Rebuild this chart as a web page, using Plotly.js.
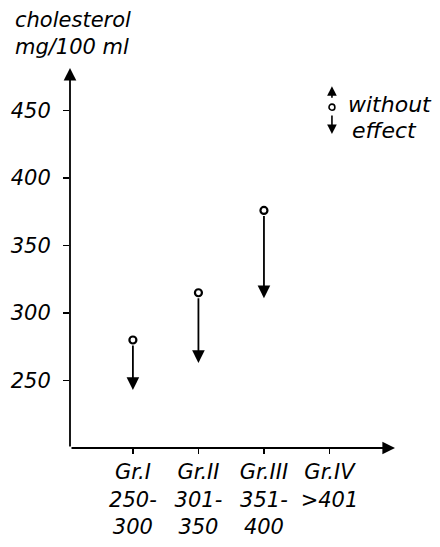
<!DOCTYPE html>
<html>
<head>
<meta charset="utf-8">
<script src="https://cdn.plot.ly/plotly-3.0.1.min.js"></script>
<style>html,body{margin:0;padding:0;background:#fff;}#chart{width:440px;height:547px;}</style>
</head>
<body>
<div id="chart"></div>
<script>
// Data
const groupPos = [1, 2, 3];
const before = [280, 315, 376];
const after = [243, 263, 311];
const xTickVals = [1, 2, 3, 4];
const xTickText = ["Gr.I<br>250-<br>300", "Gr.II<br>301-<br>350", "Gr.III<br>351-<br>400", "Gr.IV<br>>401<br> "];
const yTickVals = [250, 300, 350, 400, 450];
const yTitle = ["cholesterol", "mg/100 ml"];
const legendText = ["without", "effect"];

const FONT = "DejaVu Sans, Liberation Sans, sans-serif";
const xr = [0.04, 5];
const yr = [200, 481.5];

const traces = [{
  type: "scatter", mode: "markers",
  x: groupPos, y: before,
  marker: {symbol: "circle", size: 7, color: "#fff", line: {color: "#000", width: 2.2}},
  showlegend: false, hoverinfo: "skip", cliponaxis: false
}];

const ann = [];
// data arrows
groupPos.forEach((g, i) => {
  ann.push({x: g, y: after[i], ax: g, ay: before[i], xref: "x", yref: "y", axref: "x", ayref: "y",
    showarrow: true, arrowhead: 2, arrowsize: 1.4, arrowwidth: 1.8, arrowcolor: "#000", startstandoff: 4, text: ""});
});
// axis arrows
ann.push({x: xr[1], y: yr[0], ax: xr[0], ay: yr[0], xref: "x", yref: "y", axref: "x", ayref: "y",
  showarrow: true, arrowhead: 2, arrowsize: 1.4, arrowwidth: 1.8, arrowcolor: "#000", text: ""});
ann.push({x: xr[0], y: yr[1], ax: xr[0], ay: yr[0], xref: "x", yref: "y", axref: "x", ayref: "y",
  showarrow: true, arrowhead: 2, arrowsize: 1.4, arrowwidth: 1.8, arrowcolor: "#000", text: ""});
// y title
ann.push({xref: "paper", yref: "paper", x: -0.175, y: 1.162, xanchor: "left", yanchor: "top", align: "left",
  text: "<i>" + yTitle.join("<br>") + "</i>", showarrow: false, font: {family: FONT, size: 21, color: "#000"}});
// legend
ann.push({xref: "paper", yref: "paper", x: 0.806, y: 0.952, ax: 0, ay: 13, showarrow: true, arrowhead: 2,
  arrowsize: 1.2, arrowwidth: 1.6, arrowcolor: "#000", text: ""});
ann.push({xref: "paper", yref: "paper", x: 0.806, y: 0.826, ax: 0, ay: -20, showarrow: true, arrowhead: 2,
  arrowsize: 1.2, arrowwidth: 1.6, arrowcolor: "#000", text: ""});
ann.push({xref: "paper", yref: "paper", x: 0.85, y: 0.903, xanchor: "left", yanchor: "middle",
  text: "<i>" + legendText[0] + "</i>", showarrow: false, font: {family: FONT, size: 22, color: "#000"}});
ann.push({xref: "paper", yref: "paper", x: 0.86, y: 0.836, xanchor: "left", yanchor: "middle",
  text: "<i>" + legendText[1] + "</i>", showarrow: false, font: {family: FONT, size: 22, color: "#000"}});

const layout = {
  width: 440, height: 547,
  margin: {l: 70, r: 45, t: 68, b: 99},
  paper_bgcolor: "#fff", plot_bgcolor: "#fff",
  showlegend: false,
  font: {family: FONT, size: 21, color: "#000"},
  xaxis: {range: xr, showgrid: false, zeroline: false, showline: false,
    tickmode: "array", tickvals: xTickVals, ticktext: xTickText.map(t => "<i>" + t + "</i>"),
    ticks: "outside", ticklen: 5, tickwidth: 1.5, tickcolor: "#000",
    tickfont: {family: FONT, size: 21, color: "#000"}},
  yaxis: {range: yr, showgrid: false, zeroline: false, showline: false,
    tickmode: "array", tickvals: yTickVals, ticktext: yTickVals.map(v => "<i>" + v + "</i>"),
    ticks: "outside", ticklen: 6, tickwidth: 1.5, tickcolor: "#000", ticklabelstandoff: 8,
    tickfont: {family: FONT, size: 21, color: "#000"}},
  shapes: [{type: "circle", xref: "paper", yref: "paper", x0: 0.797, x1: 0.815, y0: 0.889, y1: 0.905,
    line: {color: "#000", width: 1.6}, fillcolor: "#fff"}],
  annotations: ann
};

Plotly.newPlot("chart", traces, layout, {staticPlot: true, displayModeBar: false});
</script>
</body>
</html>
